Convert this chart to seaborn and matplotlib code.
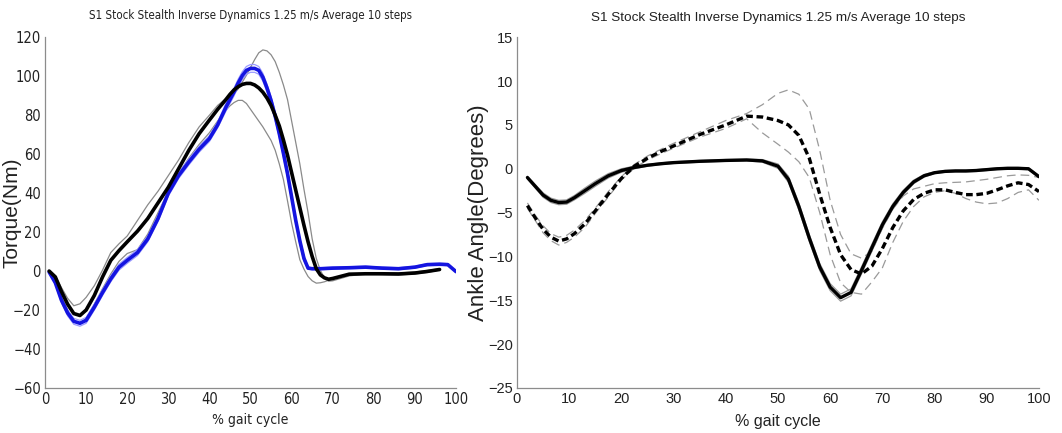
import numpy as np
import matplotlib
matplotlib.use("Agg")
import matplotlib.pyplot as plt
import seaborn as sns

title = "S1 Stock Stealth Inverse Dynamics 1.25 m/s Average 10 steps"
nan = np.nan

# ---- left panel: torque ----
x_torque = [1, 2.5, 4, 5.5, 7, 8.5, 10, 12, 14, 16, 18, 20, 22.5, 25, 27.5, 30, 32.5,
            35, 37.5, 40, 42,
            44, 45, 46, 47, 48, 49, 50, 51, 52, 53, 54, 55, 56, 57, 58, 59, 60, 61, 62,
            63, 64, 65, 66, 67, 68, 69, 70,
            74, 78, 82, 86, 90, 93, 96, 98, 100]
stock_mean = [0, -3, -10.5, -17, -21.8, -22.8, -20, -12.5, -3, 5.5, 10.5, 15, 20.5, 27, 35,
              43, 52.5, 62, 70.5, 77.5, 83,
              88, 90.7, 93, 94.6, 95.8, 96.3, 96.3, 95.5, 94, 91.8, 88.8, 85, 80, 74.5,
              67.3, 59.5, 50.5, 41.5, 32.5, 23.5, 15, 7.5, 1.2, -2, -3.5, -4.2, -3.8,
              -1.6, -1.4, -1.4, -1.5, -1, -0.2, 0.8, nan, nan]
stock_upper = [0, -2.5, -8.5, -14, -17.8, -16.8, -13.5, -7.5, 0.5, 9.5, 14, 18, 26, 34, 41,
               49, 57, 66, 74, 80, 85,
               88.5, 89.5, 91, 93.5, 97, 100.5, 104.5, 108.5, 112, 113.5, 113, 111, 107.5,
               102, 95.5, 88, 77, 66, 55, 42, 30, 16.5, 6.5, 0.3, -3.5, -5.2, -5,
               -2.5, -1.5, -1, -1, -0.5, 0.3, 1.2, nan, nan]
stock_lower = [0, -4, -13, -20, -25.5, -26.5, -24.5, -17, -9, -1.5, 5, 9, 11, 19, 30, 41,
               50, 58, 65, 71, 77,
               82.5, 84.8, 86.5, 87.6, 87.6, 86, 83, 80, 77, 74, 70.5, 67, 62, 55, 47, 36,
               24.6, 15, 5.8, 1, -2.8, -5, -6.2, -6.0, -5.5, -4.7, -4,
               -2, -1.5, -1.8, -2, -1.5, -0.7, 0.5, nan, nan]
stealth_mean = [-0.5, -6, -15, -21.5, -25.8, -26.8, -25.3, -18.5, -11, -4, 2, 5.5, 9.5,
                16.5, 27, 40, 49, 56, 62.5, 68, 75,
                84, 88, 92, 96.5, 100.3, 103, 104, 104, 103, 99.5, 94, 87.5, 79.5, 70.5,
                60.5, 50, 38, 26, 15.5, 6.5, 1.5, 1.2, 1.2, 1.2, 1.3, 1.4, 1.5,
                1.7, 2, 1.5, 1.2, 2, 3.3, 3.5, 3.3, -0.3]
stealth_sd = [0.3, 0.8, 1.2, 1.5, 1.5, 1.5, 1.5, 1.5, 1.5, 1.5, 1.5, 1.5, 1.5, 1.5, 1.5,
              1.5, 1.5, 1.5, 1.5, 1.5, 1.5,
              2, 2, 2, 2, 2, 2, 2, 2, 2, 2, 2, 2, 2, 2, 2, 2, 1.5, 1.5, 1.5, 1.5,
              0.5, 0.5, 0.5, 0.5, 0.5, 0.5, 0.5,
              0.5, 0.5, 0.5, 0.5, 0.5, 0.5, 0.5, 0.5, 0.3]

# ---- right panel: ankle angle ----
x_angle = [2, 3.5, 5, 6.5, 8, 9.5, 11, 13, 15, 17.5, 20, 22.5, 25, 27.5, 30, 35, 40, 44,
           47, 50, 52, 54, 56, 58, 60, 62, 64, 66, 68, 70, 72, 74, 76, 78, 80, 82, 84, 86,
           88, 90, 92, 94, 96, 98, 100]
solid_mean = [-1.0, -2.0, -3.0, -3.6, -3.85, -3.8, -3.3, -2.5, -1.7, -0.8, -0.2, 0.15, 0.4,
              0.57, 0.7, 0.85, 0.95, 1.0, 0.9, 0.3, -1.2, -4.3, -7.9, -11.2, -13.5, -14.7,
              -14.1, -11.6, -9.0, -6.4, -4.3, -2.7, -1.5, -0.8, -0.45, -0.3, -0.25, -0.25,
              -0.2, -0.1, 0.0, 0.05, 0.05, 0.0, -0.9]
solid_sd = [0.15, 0.2, 0.25, 0.25, 0.25, 0.25, 0.25, 0.3, 0.3, 0.25, 0.2, 0.15, 0.1, 0.1,
            0.1, 0.1, 0.1, 0.1, 0.15, 0.25, 0.35, 0.4, 0.4, 0.4, 0.4, 0.4, 0.4, 0.4, 0.4,
            0.35, 0.3, 0.25, 0.2, 0.15, 0.1, 0.1, 0.1, 0.1, 0.1, 0.1, 0.1, 0.1, 0.1, 0.1, 0.1]
dashed_mean = [-4.2, -5.6, -6.9, -7.8, -8.25, -8.0, -7.4, -6.3, -4.8, -2.9, -1.1, 0.3, 1.2,
               1.95, 2.6, 3.9, 5.0, 6.0, 5.9, 5.5, 5.0, 3.8, 1.2, -2.9, -6.7, -9.8, -11.5,
               -12.0, -11.1, -9.1, -6.7, -4.8, -3.5, -2.8, -2.4, -2.4, -2.7, -2.95, -2.95,
               -2.8, -2.4, -1.95, -1.6, -1.8, -2.6]
dashed_upper = [-3.9, -5.3, -6.5, -7.4, -7.8, -7.6, -7.0, -5.9, -4.5, -2.6, -0.9, 0.5, 1.45,
                2.2, 2.9, 4.2, 5.5, 6.3, 7.3, 8.6, 9.0, 8.5, 6.8, 2.1, -3.6, -7.5, -9.7,
                -10.2, -9.4, -6.8, -4.6, -3.1, -2.3, -2.0, -1.7, -1.6, -1.55, -1.5, -1.35,
                -1.2, -1.0, -0.8, -0.7, -0.75, -1.0]
dashed_lower = [-4.5, -5.9, -7.3, -8.2, -8.7, -8.4, -7.8, -6.7, -5.1, -3.2, -1.3, 0.1, 1.0,
                1.7, 2.35, 3.6, 4.6, 5.7, 4.1, 2.8, 1.9, 0.8, -1.0, -5.0, -9.8, -13.0, -14.1,
                -14.3, -12.9, -11.3, -8.4, -6.0, -4.3, -3.2, -2.7, -2.5, -2.8, -3.4, -3.8,
                -4.0, -3.9, -3.4, -2.7, -2.4, -3.6]

sns.set_style("white")
plt.rcParams["font.family"] = ["Liberation Sans", "DejaVu Sans"]
narrow = dict(family="DejaVu Sans", stretch="condensed")

fig = plt.figure(figsize=(10.62, 4.33), dpi=100)
ax1 = fig.add_axes([0.0424, 0.104, 0.387, 0.810])
ax2 = fig.add_axes([0.4868, 0.104, 0.4915, 0.810])

st_m = np.array(stealth_mean)
st_sd = np.array(stealth_sd)

# left panel
sns.lineplot(x=x_torque, y=stock_upper, ax=ax1, color="#8a8a8a", lw=0.9, estimator=None, sort=False)
sns.lineplot(x=x_torque, y=stock_lower, ax=ax1, color="#8a8a8a", lw=0.9, estimator=None, sort=False)
sns.lineplot(x=x_torque, y=st_m + st_sd, ax=ax1, color="#9a9aff", lw=0.9, estimator=None, sort=False)
sns.lineplot(x=x_torque, y=st_m - st_sd, ax=ax1, color="#9a9aff", lw=0.9, estimator=None, sort=False)
sns.lineplot(x=x_torque, y=stealth_mean, ax=ax1, color="#1414e0", lw=2.6, estimator=None, sort=False)
sns.lineplot(x=x_torque, y=stock_mean, ax=ax1, color="black", lw=2.6, estimator=None, sort=False)

ax1.set_xlim(0, 100)
ax1.set_ylim(-60, 120)
ax1.set_xticks(range(0, 101, 10))
ax1.set_yticks(range(-60, 121, 20))
ax1.set_title(title, fontsize=8.3, color="#222222", pad=13, **narrow)
ax1.set_xlabel("% gait cycle", fontsize=10, color="#222222", labelpad=4, **narrow)
ax1.set_ylabel("Torque(Nm)", fontsize=15, color="#222222")
ax1.yaxis.set_label_coords(-0.057, 0.5)

# right panel
s_m = np.array(solid_mean)
s_sd = np.array(solid_sd)
sns.lineplot(x=x_angle, y=s_m + s_sd, ax=ax2, color="#9a9a9a", lw=0.9, estimator=None, sort=False)
sns.lineplot(x=x_angle, y=s_m - s_sd, ax=ax2, color="#9a9a9a", lw=0.9, estimator=None, sort=False)
sns.lineplot(x=x_angle, y=dashed_upper, ax=ax2, color="#9a9a9a", lw=0.9, linestyle=(0, (7, 4)),
             estimator=None, sort=False)
sns.lineplot(x=x_angle, y=dashed_lower, ax=ax2, color="#9a9a9a", lw=0.9, linestyle=(0, (7, 4)),
             estimator=None, sort=False)
sns.lineplot(x=x_angle, y=solid_mean, ax=ax2, color="black", lw=2.4, estimator=None, sort=False)
sns.lineplot(x=x_angle, y=dashed_mean, ax=ax2, color="black", lw=2.4, linestyle=(0, (2.0, 1.1)),
             estimator=None, sort=False)

ax2.set_xlim(0, 100)
ax2.set_ylim(-25, 15)
ax2.set_xticks(range(0, 101, 10))
ax2.set_yticks(range(-25, 16, 5))
ax2.set_title(title, fontsize=9.7, color="#222222", pad=12)
ax2.set_xlabel("% gait cycle", fontsize=11.5, color="#222222", labelpad=6)
ax2.set_ylabel("Ankle Angle(Degrees)", fontsize=16, color="#222222")
ax2.yaxis.set_label_coords(-0.053, 0.5)

for ax in (ax1, ax2):
    sns.despine(ax=ax)
    for side in ("left", "bottom"):
        ax.spines[side].set_color("#8c8c8c")
        ax.spines[side].set_linewidth(0.9)
    ax.tick_params(direction="in", length=4, width=0.8, color="#8c8c8c", labelcolor="#222222", pad=3)
    ax.grid(False)

for lab in ax1.get_xticklabels() + ax1.get_yticklabels():
    lab.set_family("DejaVu Sans")
    lab.set_fontstretch("condensed")
    lab.set_fontsize(10.5)
for lab in ax2.get_xticklabels() + ax2.get_yticklabels():
    lab.set_fontsize(10.5)

fig.savefig("out.png", dpi=100)
